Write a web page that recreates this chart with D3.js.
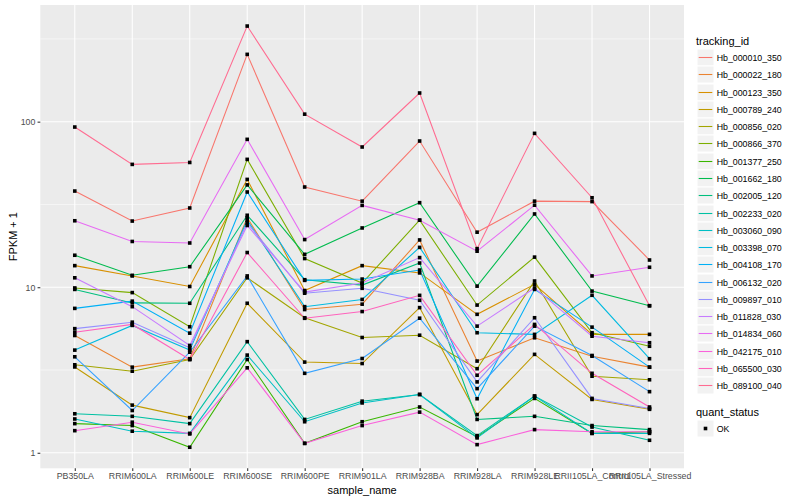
<!DOCTYPE html>
<html>
<head>
<meta charset="utf-8">
<script src="https://cdn.jsdelivr.net/npm/d3@7"></script>
<style>
  body { margin: 0; background: #fff; }
  text { font-family: "Liberation Sans", Arial, Helvetica, sans-serif; }
</style>
</head>
<body>
<svg id="chart" width="800" height="500"></svg>
<script>
var samples = ['PB350LA', 'RRIM600LA', 'RRIM600LE', 'RRIM600SE', 'RRIM600PE', 'RRIM901LA',
  'RRIM928BA', 'RRIM928LA', 'RRIM928LE', 'RRII105LA_Control', 'RRII105LA_Stressed'];

var trackingIds = ['Hb_000010_350', 'Hb_000022_180', 'Hb_000123_350', 'Hb_000789_240', 'Hb_000856_020',
  'Hb_000866_370', 'Hb_001377_250', 'Hb_001662_180', 'Hb_002005_120', 'Hb_002233_020',
  'Hb_003060_090', 'Hb_003398_070', 'Hb_004108_170', 'Hb_006132_020', 'Hb_009897_010',
  'Hb_011828_030', 'Hb_014834_060', 'Hb_042175_010', 'Hb_065500_030', 'Hb_089100_040'];

// ggplot hue palette, 20 levels
var colors = ['#F8766D', '#EA8331', '#D89000', '#C09B00', '#A3A500', '#7CAE00', '#39B600', '#00BB4E',
  '#00BF7D', '#00C1A3', '#00BFC4', '#00BAE0', '#00B0F6', '#35A2FF', '#9590FF', '#C77CFF',
  '#E76BF3', '#FA62DB', '#FF62BC', '#FF6C91'];

// FPKM + 1, one row per tracking id, one column per sample
var fpkm1 = [
  [38.1, 25.1, 30.1, 255, 40.3, 33.1, 76.4, 21.5, 33.1, 32.9, 14.6],
  [5.11, 3.29, 3.70, 26.3, 7.33, 7.9, 19.3, 3.58, 4.95, 3.83, 3.29],
  [13.5, 11.7, 10.1, 44.8, 9.55, 13.5, 12.2, 6.86, 10.4, 5.19, 5.19],
  [3.3, 1.94, 1.63, 8.0, 3.53, 3.46, 7.53, 1.70, 3.93, 2.10, 1.83],
  [3.4, 3.11, 3.66, 11.4, 6.54, 4.97, 5.13, 3.22, 10.9, 2.9, 2.76],
  [9.9, 9.28, 5.77, 59.2, 14.9, 10.6, 25.4, 7.8, 15.2, 5.31, 4.4],
  [1.50, 1.46, 1.08, 3.66, 1.14, 1.54, 1.89, 1.25, 2.13, 1.31, 1.34],
  [15.6, 11.8, 13.3, 41.5, 15.8, 22.8, 32.4, 10.15, 27.7, 9.47, 7.73],
  [9.7, 8.04, 8.0, 27.2, 11.1, 10.3, 14.0, 1.59, 1.66, 1.46, 1.38],
  [1.72, 1.66, 1.50, 4.69, 1.59, 2.05, 2.25, 1.27, 2.2, 1.43, 1.19],
  [1.60, 1.35, 1.31, 3.89, 1.54, 2.0, 2.25, 1.23, 2.2, 1.31, 1.31],
  [4.17, 5.88, 4.17, 25.4, 7.63, 8.44, 17.4, 5.31, 5.19, 8.94, 3.70],
  [7.45, 8.24, 5.28, 37.6, 11.0, 11.2, 12.7, 2.12, 9.7, 5.74, 3.29],
  [3.80, 1.80, 4.05, 11.7, 3.02, 3.71, 6.5, 2.44, 5.82, 3.87, 2.34],
  [5.62, 6.15, 4.31, 24.5, 9.2, 9.85, 8.34, 2.68, 6.54, 2.13, 1.85],
  [11.4, 7.63, 4.45, 23.6, 9.35, 10.6, 15.1, 5.82, 9.9, 5.06, 4.62],
  [25.2, 18.9, 18.5, 78.2, 19.4, 31.2, 25.4, 16.5, 31.3, 11.7, 13.2],
  [1.36, 1.53, 1.30, 3.26, 1.14, 1.46, 1.76, 1.12, 1.38, 1.34, 1.34],
  [5.35, 5.96, 3.66, 16.2, 6.49, 7.13, 8.93, 2.94, 5.96, 3.02, 1.89],
  [92.8, 55.2, 56.7, 378, 111, 70.3, 149, 17.1, 85, 34.7, 7.73]
];

var yTicks = [1, 10, 100];
var yMinor = [Math.pow(10, 0.5), Math.pow(10, 1.5), Math.pow(10, 2.5)];

var svg = d3.select('#chart');
var pLeft = 40.3, pRight = 684, pTop = 5, pBottom = 468.3;

var x = d3.scalePoint()
  .domain(samples)
  .range([pLeft, pRight])
  .padding(0.6);

// log scale with ggplot's 5% expansion
var ext = d3.extent(fpkm1.flat());
var lo = Math.log10(ext[0]), hi = Math.log10(ext[1]), pad = (hi - lo) * 0.05;
var y = d3.scaleLog()
  .domain([Math.pow(10, lo - pad), Math.pow(10, hi + pad)])
  .range([pBottom, pTop]);

svg.append('rect')
  .attr('x', pLeft).attr('y', pTop)
  .attr('width', pRight - pLeft).attr('height', pBottom - pTop)
  .attr('fill', '#EBEBEB');

var grid = svg.append('g');
grid.selectAll('.minor').data(yMinor).enter().append('line')
  .attr('x1', pLeft).attr('x2', pRight)
  .attr('y1', d => y(d)).attr('y2', d => y(d))
  .attr('stroke', '#fff').attr('stroke-width', 0.53);
grid.selectAll('.major').data(yTicks).enter().append('line')
  .attr('x1', pLeft).attr('x2', pRight)
  .attr('y1', d => y(d)).attr('y2', d => y(d))
  .attr('stroke', '#fff').attr('stroke-width', 1.07);
grid.selectAll('.vx').data(samples).enter().append('line')
  .attr('x1', d => x(d)).attr('x2', d => x(d))
  .attr('y1', pTop).attr('y2', pBottom)
  .attr('stroke', '#fff').attr('stroke-width', 1.07);

// axes
var yAxis = svg.append('g')
  .attr('transform', 'translate(' + pLeft + ',0)')
  .call(d3.axisLeft(y).tickValues(yTicks).tickFormat(d3.format('d')).tickSize(2.74).tickPadding(2.2));
var xAxis = svg.append('g')
  .attr('transform', 'translate(0,' + pBottom + ')')
  .call(d3.axisBottom(x).tickSize(2.74).tickPadding(2.2));
[xAxis, yAxis].forEach(function (a) {
  a.select('.domain').remove();
  a.selectAll('.tick line').attr('stroke', '#333333').attr('stroke-width', 1.07);
  a.selectAll('.tick text').attr('fill', '#4D4D4D').style('font-size', '8.8px')
    .style('font-family', '"Liberation Sans", Arial, sans-serif');
});

svg.append('text')
  .attr('x', (pLeft + pRight) / 2).attr('y', 494)
  .attr('text-anchor', 'middle')
  .style('font-size', '11px')
  .text('sample_name');
svg.append('text')
  .attr('transform', 'translate(17,' + ((pTop + pBottom) / 2) + ') rotate(-90)')
  .attr('text-anchor', 'middle')
  .style('font-size', '11px')
  .text('FPKM + 1');

// lines and points
var line = d3.line()
  .x((d, i) => x(samples[i]))
  .y(d => y(d));

svg.append('g').selectAll('path')
  .data(fpkm1)
  .enter()
  .append('path')
  .attr('d', line)
  .attr('fill', 'none')
  .attr('stroke', (d, i) => colors[i])
  .attr('stroke-width', 1.07);

var pts = [];
fpkm1.forEach(function (row) {
  row.forEach(function (v, j) { pts.push({ s: samples[j], v: v }); });
});
svg.append('g').selectAll('rect')
  .data(pts)
  .enter()
  .append('rect')
  .attr('x', d => x(d.s) - 1.8)
  .attr('y', d => y(d.v) - 1.8)
  .attr('width', 3.6).attr('height', 3.6)
  .attr('fill', '#000');

// legends
var lg = svg.append('g');
lg.append('text').attr('x', 696).attr('y', 44.5).style('font-size', '11px').text('tracking_id');
var keys = lg.selectAll('.key')
  .data(trackingIds)
  .enter()
  .append('g')
  .attr('transform', (d, i) => 'translate(697,' + Math.round(49 + i * 17.28) + ')');
keys.append('rect')
  .attr('width', 17).attr('height', 17)
  .attr('fill', '#F2F2F2').attr('stroke', '#fff').attr('stroke-width', 1);
keys.append('line')
  .attr('x1', 1.7).attr('x2', 15.3)
  .attr('y1', 8.5).attr('y2', 8.5)
  .attr('stroke', (d, i) => colors[i]).attr('stroke-width', 1.07);
keys.append('text')
  .attr('x', 19.7).attr('y', 11.8)
  .style('font-size', '8.8px')
  .text(d => d);

lg.append('text').attr('x', 696).attr('y', 416).style('font-size', '11px').text('quant_status');
var ok = lg.append('g').attr('transform', 'translate(697,420)');
ok.append('rect').attr('width', 17).attr('height', 17)
  .attr('fill', '#F2F2F2').attr('stroke', '#fff').attr('stroke-width', 1);
ok.append('rect').attr('x', 6.7).attr('y', 6.7).attr('width', 3.6).attr('height', 3.6).attr('fill', '#000');
ok.append('text').attr('x', 19.7).attr('y', 11.8).style('font-size', '8.8px').text('OK');
</script>
</body>
</html>
